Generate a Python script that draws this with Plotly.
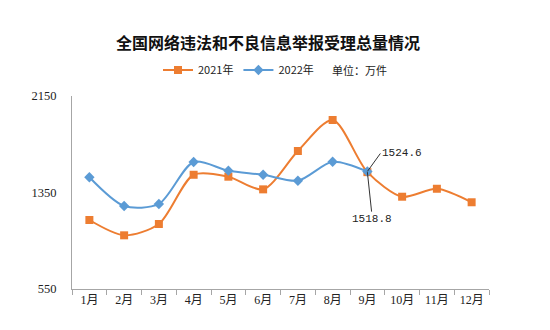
import plotly.graph_objects as go

months = ["1月", "2月", "3月", "4月", "5月", "6月", "7月", "8月", "9月", "10月", "11月", "12月"]
v2021 = [1122, 995, 1089, 1497, 1481, 1376, 1694, 1951, 1518.8, 1315, 1381, 1269]
v2022 = [1476, 1238, 1255, 1603, 1531, 1497, 1448, 1605, 1524.6]
ytick_vals = [550, 1350, 2150]

orange = "#ED7D31"
blue = "#5B9BD5"
serif = "Liberation Serif, Noto Sans CJK SC"

fig = go.Figure()
fig.add_trace(go.Scatter(
    x=months, y=v2021, name="2021年", mode="lines+markers",
    line=dict(color=orange, width=2, shape="spline", smoothing=0.8),
    marker=dict(symbol="square", size=8, color=orange),
))
fig.add_trace(go.Scatter(
    x=months[:len(v2022)], y=v2022, name="2022年", mode="lines+markers",
    line=dict(color=blue, width=2, shape="spline", smoothing=0.8),
    marker=dict(symbol="diamond", size=8, color=blue),
))

fig.add_annotation(x=months[8], y=v2022[8], text="1524.6", showarrow=True,
                   arrowhead=0, arrowwidth=1, arrowcolor="#333333",
                   ax=13, ay=-18, xanchor="left",
                   font=dict(family="Liberation Mono, DejaVu Sans Mono", size=11, color="#222"))
fig.add_annotation(x=months[8], y=v2021[8], text="1518.8", showarrow=True,
                   arrowhead=0, arrowwidth=1, arrowcolor="#333333",
                   ax=5, ay=47,
                   font=dict(family="Liberation Mono, DejaVu Sans Mono", size=11, color="#222"))
fig.add_annotation(xref="paper", yref="paper", x=(330 - 72) / 417, y=(289 - 70) / 193,
                   text="单位：万件", showarrow=False, xanchor="left", yanchor="middle",
                   font=dict(family="Noto Sans CJK SC", size=11, color="#222"))

fig.update_layout(
    width=550, height=330,
    margin=dict(l=72, r=61, t=96, b=41),
    paper_bgcolor="white", plot_bgcolor="white",
    title=dict(text="<b>全国网络违法和不良信息举报受理总量情况</b>",
               x=268 / 550, xanchor="center", y=1 - 43 / 330, yanchor="middle",
               font=dict(family="Noto Sans CJK SC", size=16, color="#111")),
    showlegend=True,
    legend=dict(orientation="h", x=(158 - 72) / 417, y=(289 - 70) / 193,
                xanchor="left", yanchor="middle", itemwidth=30,
                font=dict(family="Noto Sans CJK SC", size=11, color="#222"),
                bgcolor="rgba(0,0,0,0)", tracegroupgap=0),
    xaxis=dict(type="category", range=[-0.5, 11.5], showline=True, linecolor="#A6A6A6",
               linewidth=1, ticks="outside", tickson="boundaries", ticklen=5,
               tickcolor="#A6A6A6", showgrid=False, zeroline=False,
               tickfont=dict(family=serif, size=12, color="#222")),
    yaxis=dict(range=[550, 2150], tickvals=ytick_vals, showline=True, linecolor="#A6A6A6",
               linewidth=1, ticks="", showgrid=False, zeroline=False, ticklabelstandoff=12,
               tickfont=dict(family=serif, size=12.5, color="#222")),
)

fig.write_html("out.html")
